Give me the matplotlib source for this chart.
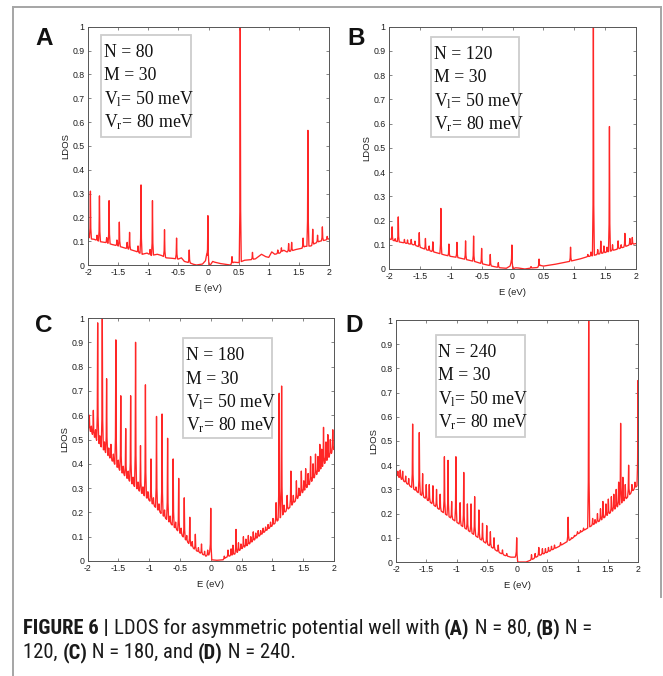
import numpy as np
import matplotlib
matplotlib.use("Agg")
import matplotlib.pyplot as plt
from matplotlib import font_manager as fm
from matplotlib.font_manager import FontProperties
from matplotlib.patches import Rectangle
from matplotlib.lines import Line2D

# ---------------------------------------------------------------- data
E_TICKS = [-2, -1.5, -1, -0.5, 0, 0.5, 1, 1.5, 2]
E_TICK_LABELS = ["-2", "-1.5", "-1", "-0.5", "0", "0.5", "1", "1.5", "2"]
L_TICKS = [0, 0.1, 0.2, 0.3, 0.4, 0.5, 0.6, 0.7, 0.8, 0.9, 1.0]
L_TICK_LABELS = ["0", "0.1", "0.2", "0.3", "0.4", "0.5", "0.6", "0.7", "0.8", "0.9", "1"]

PANEL_LETTERS = ["A", "B", "C", "D"]
N_VALUES = [80, 120, 180, 240]
M_VALUE = 30
V_LEFT_MEV = 50
V_RIGHT_MEV = 80

# (A) N = 80 : smooth background and resonance peaks (energy eV, LDOS)
A_base_e = [-2.0, -1.97, -1.9, -1.8, -1.7, -1.6, -1.5, -1.4, -1.3, -1.2, -1.1, -1.02,
            -0.95, -0.85, -0.78, -0.7, -0.6, -0.5, -0.45, -0.4, -0.3, -0.25, -0.2, -0.1,
            -0.05, -0.03, 0.0, 0.03, 0.07, 0.1, 0.2, 0.3, 0.36, 0.42, 0.5, 0.55, 0.6, 0.7,
            0.78, 0.88, 0.95, 1.0, 1.05, 1.1, 1.18, 1.25, 1.3, 1.36, 1.45, 1.55, 1.6, 1.7,
            1.76, 1.85, 1.95, 2.0]
A_base_v = [0.13, 0.11, 0.108, 0.098, 0.094, 0.086, 0.08, 0.072, 0.065, 0.057, 0.045, 0.05,
            0.04, 0.045, 0.04, 0.03, 0.028, 0.025, 0.03, 0.015, 0.008, 0.003, 0.0, 0.004,
            0.018, 0.045, 0.0, 0.0, 0.015, 0.012, 0.006, 0.002, 0.0, 0.012, 0.01, 0.015, 0.02, 0.022,
            0.026, 0.045, 0.035, 0.032, 0.055, 0.045, 0.05, 0.062, 0.055, 0.058, 0.065, 0.07, 0.078, 0.08,
            0.09, 0.1, 0.105, 0.11]
A_peak_e = [-1.96, -1.85, -1.81, -1.69, -1.65, -1.52, -1.48, -1.35, -1.31, -1.17, -1.12,
            -0.97, -0.93, -0.73, -0.53, -0.32, -0.01, 0.39, 0.527, 0.73, 1.15, 1.21, 1.33,
            1.38, 1.57, 1.65, 1.73, 1.81, 1.89, 1.97]
A_peak_v = [0.31, 0.125, 0.29, 0.115, 0.27, 0.105, 0.18, 0.095, 0.137, 0.08, 0.336,
            0.065, 0.27, 0.148, 0.113, 0.063, 0.207, 0.035, 1.0, 0.053, 0.063, 0.072, 0.09,
            0.095, 0.113, 0.565, 0.15, 0.125, 0.16, 0.12]

# (B) N = 120
B_base_e = [-2.0, -1.9, -1.8, -1.7, -1.6, -1.5, -1.4, -1.3, -1.2, -1.1, -1.0, -0.9, -0.8,
            -0.7, -0.6, -0.5, -0.4, -0.3, -0.2, -0.1, -0.04, -0.02, 0.0, 0.05, 0.1, 0.2, 0.3,
            0.4, 0.45, 0.5, 0.6, 0.7, 0.8, 0.9, 1.0, 1.1, 1.2, 1.3, 1.4, 1.5, 1.6, 1.7, 1.8,
            1.9, 2.0]
B_base_v = [0.125, 0.115, 0.11, 0.105, 0.1, 0.09, 0.08, 0.072, 0.065, 0.058, 0.052, 0.048, 0.042,
            0.036, 0.03, 0.022, 0.016, 0.01, 0.005, 0.003, 0.012, 0.03, 0.0, 0.005, 0.004, 0.0, 0.004,
            0.006, 0.015, 0.012, 0.016, 0.02, 0.025, 0.03, 0.036, 0.042, 0.05, 0.055, 0.062, 0.068,
            0.075, 0.082, 0.09, 0.1, 0.105]
B_peak_e = [-1.95, -1.9, -1.85, -1.75, -1.7, -1.64, -1.58, -1.51, -1.41, -1.35, -1.29, -1.16,
            -1.03, -0.9, -0.76, -0.63, -0.5, -0.36, -0.23, -0.01, 0.3, 0.43, 0.94, 1.22, 1.27,
            1.31, 1.38, 1.43, 1.48, 1.53, 1.57, 1.62, 1.71, 1.76, 1.82, 1.9, 1.94]
B_peak_v = [0.174, 0.125, 0.215, 0.122, 0.12, 0.122, 0.115, 0.15, 0.126, 0.095, 0.112, 0.25,
            0.103, 0.11, 0.116, 0.136, 0.085, 0.06, 0.026, 0.099, 0.01, 0.041, 0.09, 0.06, 0.07,
            1.0, 0.08, 0.115, 0.095, 0.09, 0.588, 0.1, 0.116, 0.1, 0.147, 0.126, 0.13]

# (C) N = 180
C_base_e = [-2.0, -1.75, -1.5, -1.25, -1.0, -0.75, -0.5, -0.35, -0.25, -0.15, -0.08, -0.03,
            -0.015, 0.01, 0.1, 0.2, 0.25, 0.3, 0.4, 0.5, 0.6, 0.7, 0.8, 0.9, 1.0, 1.1, 1.2,
            1.3, 1.4, 1.5, 1.6, 1.7, 1.8, 1.9, 2.0]
C_base_v = [0.55, 0.46, 0.38, 0.31, 0.25, 0.18, 0.115, 0.07, 0.045, 0.03, 0.02, 0.025,
            0.04, 0.005, 0.003, 0.005, 0.015, 0.02, 0.03, 0.05, 0.065, 0.085, 0.105, 0.125, 0.145,
            0.17, 0.2, 0.225, 0.255, 0.285, 0.315, 0.35, 0.385, 0.42, 0.46]
C_peak_e = [-1.97, -1.937, -1.905, -1.87, -1.835, -1.80, -1.76, -1.725, -1.69, -1.655, -1.62,
            -1.58, -1.54, -1.50, -1.46, -1.42, -1.38, -1.34, -1.30, -1.26, -1.22, -1.18, -1.14,
            -1.10, -1.06, -1.02, -0.97, -0.93, -0.88, -0.84, -0.79, -0.75, -0.70, -0.66, -0.61,
            -0.57, -0.52, -0.48, -0.43, -0.39, -0.34, -0.30, -0.25, -0.20, -0.15, -0.10, -0.05,
            0.0, 0.22, 0.28, 0.33, 0.36, 0.41, 0.45, 0.49, 0.53, 0.57, 0.61, 0.65, 0.69, 0.73,
            0.77, 0.81, 0.85, 0.89, 0.93, 0.97, 1.01, 1.06, 1.11, 1.15, 1.19, 1.24, 1.30, 1.34,
            1.39, 1.43, 1.47, 1.51, 1.54, 1.58, 1.62, 1.66, 1.70, 1.74, 1.77, 1.80, 1.83, 1.87,
            1.90, 1.94, 1.98]
C_peak_v = [0.60, 0.555, 0.62, 0.54, 0.98, 0.515, 1.0, 0.49, 0.75, 0.465, 0.48,
            0.44, 0.91, 0.415, 0.68, 0.39, 0.545, 0.37, 0.68, 0.345, 0.90, 0.325, 0.475,
            0.305, 0.725, 0.285, 0.42, 0.26, 0.595, 0.235, 0.605, 0.21, 0.505, 0.185, 0.42,
            0.16, 0.34, 0.135, 0.26, 0.105, 0.18, 0.08, 0.11, 0.055, 0.07, 0.04, 0.045,
            0.217, 0.02, 0.045, 0.05, 0.065, 0.13, 0.075, 0.07, 0.1, 0.09, 0.105, 0.1, 0.12, 0.115,
            0.125, 0.125, 0.135, 0.14, 0.15, 0.16, 0.175, 0.24, 0.69, 0.72, 0.23, 0.27, 0.37, 0.27,
            0.33, 0.3, 0.37, 0.33, 0.38, 0.36, 0.43, 0.4, 0.44, 0.43, 0.48, 0.46, 0.55, 0.49,
            0.52, 0.5, 0.54]

# (D) N = 240
D_base_e = [-2.0, -1.75, -1.5, -1.25, -1.0, -0.75, -0.5, -0.3, -0.2, -0.1, -0.03, -0.015,
            0.01, 0.15, 0.25, 0.35, 0.5, 0.7, 0.9, 1.0, 1.2, 1.4, 1.6, 1.8, 2.0]
D_base_v = [0.36, 0.31, 0.26, 0.21, 0.165, 0.12, 0.075, 0.04, 0.027, 0.02, 0.02, 0.03,
            0.0, 0.0, 0.01, 0.025, 0.04, 0.065, 0.095, 0.115, 0.145, 0.175, 0.215, 0.26, 0.32]
D_peak_e = [-1.97, -1.93, -1.89, -1.84, -1.79, -1.725, -1.67, -1.615, -1.56, -1.50, -1.45,
            -1.39, -1.33, -1.27, -1.20, -1.14, -1.08, -1.01, -0.94, -0.88, -0.82, -0.76, -0.70,
            -0.63, -0.57, -0.50, -0.44, -0.38, -0.31, -0.24, -0.17, -0.005, 0.24, 0.30, 0.36,
            0.42, 0.47, 0.52, 0.57, 0.62, 0.72, 0.845, 0.9, 0.95, 1.0, 1.05, 1.1, 1.185, 1.25,
            1.29, 1.33, 1.38, 1.42, 1.47, 1.51, 1.56, 1.60, 1.64, 1.68, 1.713, 1.75, 1.79,
            1.845, 1.9, 1.95, 2.0]
D_peak_v = [0.375, 0.38, 0.375, 0.355, 0.345, 0.57, 0.31, 0.535, 0.365, 0.32, 0.32,
            0.315, 0.30, 0.28, 0.435, 0.42, 0.25, 0.435, 0.245, 0.37, 0.24, 0.24, 0.27,
            0.215, 0.16, 0.15, 0.125, 0.10, 0.07, 0.05, 0.035, 0.10, 0.03, 0.035, 0.06,
            0.055, 0.055, 0.06, 0.065, 0.07, 0.08, 0.185, 0.10, 0.11, 0.125, 0.13, 0.14, 1.0, 0.18,
            0.175, 0.2, 0.22, 0.25, 0.24, 0.26, 0.27, 0.28, 0.30, 0.33, 0.573, 0.35, 0.32,
            0.40, 0.32, 0.33, 0.75]

# ---------------------------------------------------------------- fonts
_installed = {f.name for f in fm.fontManager.ttflist}


def pick(*names):
    for n in names:
        if n in _installed:
            return n
    return "DejaVu Sans"


SANS = pick("Liberation Sans", "Arial", "DejaVu Sans")
SERIF = pick("Liberation Serif", "Times New Roman", "DejaVu Serif")


def find_narrow():
    """Regular/bold files of a condensed sans face, if one is installed."""
    groups = {}
    for f in fm.fontManager.ttflist:
        tag = (f.name + " " + str(f.fname)).lower()
        narrow = ("narrow" in tag or "condensed" in tag
                  or str(f.stretch) in ("condensed", "semi-condensed", "extra-condensed"))
        if not narrow or "serif" in f.name.lower() or "mono" in tag or f.style != "normal":
            continue
        g = groups.setdefault(f.name, {})
        wt = f.weight if isinstance(f.weight, int) else (700 if "bold" in str(f.weight) else 400)
        if wt >= 600 and "bold" not in g:
            g["bold"] = f.fname
        elif wt < 600 and "normal" not in g:
            g["normal"] = f.fname
    for key in ("Liberation Sans Narrow", "Arial Narrow", "Roboto Condensed",
                "Open Sans Condensed", "DejaVu Sans Condensed", "DejaVu Sans"):
        g = groups.get(key)
        if g and "normal" in g and "bold" in g:
            return g
    for g in groups.values():
        if "normal" in g and "bold" in g:
            return g
    return None


NARROW = find_narrow()


def cap_font(weight, size):
    if NARROW is not None:
        return FontProperties(fname=NARROW[weight], size=size)
    return FontProperties(family=SANS, weight=weight, size=size)


plt.rcParams["mathtext.fontset"] = "custom"
plt.rcParams["mathtext.rm"] = SERIF
plt.rcParams["mathtext.it"] = SERIF + ":italic"
plt.rcParams["font.family"] = SANS

W, H = 663, 676
RED = "#ff2626"
fig = plt.figure(figsize=(W / 100, H / 100), dpi=100)


def fx(px):
    return px / W


def fy(py):
    return 1 - py / H


# spike outline: offsets in half-widths and fraction of the rise above background
SPIKE_OFF = [-2.6, -1.0, 0.0, 1.0, 2.6]
SPIKE_FRAC = [0.0, 0.22, 1.0, 0.22, 0.0]


def trace(be, bv, pe, pv, hw):
    """Background polyline with a narrow resonance inserted at every peak."""
    be = np.asarray(be, float)
    bv = np.asarray(bv, float)
    reach = SPIKE_OFF[-1] * hw
    keep = np.ones(be.size, bool)
    for p in pe:
        keep &= np.abs(be - p) >= reach
    xs = [be[keep]]
    ys = [bv[keep]]
    for p, v in zip(pe, pv):
        ex = p + np.array(SPIKE_OFF) * hw
        bg = np.interp(ex, be, bv)
        ys.append(bg + np.array(SPIKE_FRAC) * (v - bg))
        xs.append(ex)
    x = np.concatenate(xs)
    y = np.concatenate(ys)
    o = np.argsort(x, kind="stable")
    return x[o], y[o]


TICK_FS = 6.3
LABEL_FS = 6.8


def panel(rect, be, bv, pe, pv, hw, letter, letter_xy, box, n_value):
    l, t, r, b = rect
    ax = fig.add_axes([fx(l), fy(b), (r - l) / W, (b - t) / H])
    x, y = trace(be, bv, pe, pv, hw)
    ax.plot(x, y, color=RED, lw=0.95, solid_joinstyle="round")
    ax.set_xlim(-2, 2)
    ax.set_ylim(0, 1)
    ax.set_xticks(E_TICKS)
    ax.set_xticklabels(E_TICK_LABELS)
    ax.set_yticks(L_TICKS)
    ax.set_yticklabels(L_TICK_LABELS)
    ax.tick_params(direction="in", length=2.5, width=0.5, top=True, right=True,
                   labelsize=TICK_FS, pad=2.5, color="#555555", labelcolor="#1e1e1e")
    for s in ax.spines.values():
        s.set_color("#555555")
        s.set_linewidth(0.7)
    ax.set_xlabel("E (eV)", fontsize=LABEL_FS, va="center", color="#1e1e1e")
    ax.set_ylabel("LDOS", fontsize=LABEL_FS, va="center", color="#1e1e1e")
    ax.xaxis.set_label_coords(0.5, -23.5 / (b - t))
    ax.yaxis.set_label_coords(-22.5 / (r - l), 0.5)

    fig.text(fx(letter_xy[0]), fy(letter_xy[1]), letter, fontsize=17.5, weight="bold",
             family=SANS, ha="left", va="baseline", color="#111111")

    bl, bt, br, bb = box
    fig.add_artist(Rectangle((fx(bl), fy(bb)), (br - bl) / W, (bb - bt) / H,
                             transform=fig.transFigure, facecolor="white",
                             edgecolor="#cdcdcd", lw=1.3, zorder=5))
    lines = [f"N = {n_value}", f"M = {M_VALUE}",
             r"$\mathrm{V_{l}}$= " + f"{V_LEFT_MEV} meV",
             r"$\mathrm{V_{r}}$= " + f"{V_RIGHT_MEV} meV"]
    for i, s in enumerate(lines):
        fig.text(fx(bl + 2.5), fy(bt + 22 + 23.5 * i), s, fontsize=12.8, family=SERIF,
                 ha="left", va="baseline", color="#111111", zorder=6)
    return ax


panel((88, 26.7, 329, 265), A_base_e, A_base_v, A_peak_e, A_peak_v, 0.0065,
      PANEL_LETTERS[0], (35, 45), (101, 35, 191, 137), N_VALUES[0])
panel((389, 26.7, 636, 269), B_base_e, B_base_v, B_peak_e, B_peak_v, 0.006,
      PANEL_LETTERS[1], (347, 45), (431, 37, 519, 137), N_VALUES[1])
panel((87.5, 318, 334, 561), C_base_e, C_base_v, C_peak_e, C_peak_v, 0.0065,
      PANEL_LETTERS[2], (35, 332), (183, 338, 272, 438), N_VALUES[2])
panel((396, 320, 638, 562), D_base_e, D_base_v, D_peak_e, D_peak_v, 0.0065,
      PANEL_LETTERS[3], (345, 332), (436, 335, 525, 437), N_VALUES[3])

# frame around the figure body
FRAME = "#a5a5a5"
for xs, ys in (([13, 13], [7, 676]), ([13, 661], [7, 7]), ([661, 661], [7, 597])):
    fig.add_artist(Line2D([fx(v) for v in xs], [fy(v) for v in ys],
                          transform=fig.transFigure, color=FRAME, lw=1.4))

# caption with mixed weights
renderer = fig.canvas.get_renderer()
line1 = [("FIGURE 6 | ", "bold"), ("LDOS for asymmetric potential well with ", "normal"),
         ("(A)", "bold"), (" N = 80, ", "normal"), ("(B)", "bold"), (" N =", "normal")]
line2 = [("120, ", "normal"), ("(C)", "bold"), (" N = 180, and ", "normal"),
         ("(D)", "bold"), (" N = 240.", "normal")]


def seg_width(s, weight, size):
    def w(txt):
        t = fig.text(0, 0, txt, fontproperties=cap_font(weight, size))
        bb = t.get_window_extent(renderer)
        t.remove()
        return bb.width
    return w("x" + s + "x") - w("xx")


def line_width(segs, size):
    return sum(seg_width(s, wgt, size) for s, wgt in segs)


cap_size = 13.0 * 567.0 / line_width(line1, 13.0)


def draw_line(segs, x0, ybase, size):
    x = x0
    for s, wgt in segs:
        fig.text(fx(x), fy(ybase), s, fontproperties=cap_font(wgt, size),
                 ha="left", va="baseline", color="#1a1a1a")
        x += seg_width(s, wgt, size)


draw_line(line1, 23, 634, cap_size)
draw_line(line2, 23, 658, cap_size)

fig.savefig("out.png", dpi=100, facecolor="white")
